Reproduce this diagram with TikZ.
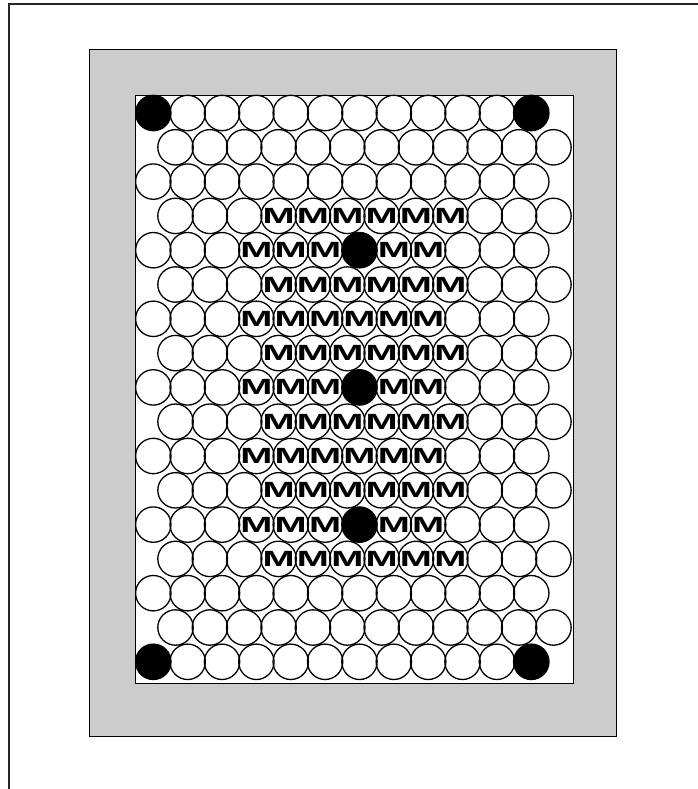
\documentclass[tikz,border=0pt]{standalone}
\usepackage{fontspec}
\newfontfamily\mfont{Liberation Sans}
\definecolor{traygray}{HTML}{CCCCCC}
\newcommand{\mlabel}{\scalebox{1.75}[1]{\mfont\bfseries\fontsize{22}{22}\selectfont M}}
\begin{document}
\begin{tikzpicture}[x=1pt,y=-1pt,
  frameline/.style={line width=1.4pt,draw=black!85},
  traybox/.style={draw=black,line width=1.3pt,fill=traygray,rectangle,anchor=north west,inner sep=0pt},
  boardbox/.style={draw=black,line width=1pt,fill=white,rectangle,anchor=north west,inner sep=0pt},
  ball/.style={circle,draw=black,line width=1.3pt,minimum size=35.4pt,inner sep=0pt},
  blackball/.style={ball,fill=black}]
\useasboundingbox (0,0) rectangle (698,789);
\fill[white] (0,0) rectangle (698,789);
\coordinate (f1) at (698,4);
\coordinate (f2) at (9,4);
\coordinate (f3) at (9,789);
\draw[frameline] (f1) -- (f2) -- (f3);
\node[traybox,minimum width=527pt,minimum height=687pt] (tray) at (89,49) {};
\node[boardbox,minimum width=438pt,minimum height=587.5pt] (board) at (135,95) {};
\foreach \i in {1,...,17}{
  \foreach \k in {0,...,11}{
    \pgfmathsetmacro\cx{(isodd(\i)?153.3:175.5)+34.36*\k}
    \pgfmathsetmacro\cy{113+34.3*(\i-1)}
    \pgfmathtruncatemacro\isblack{(((\i==1)||(\i==17))&&((\k==0)||(\k==11)))||(((\i==5)||(\i==9)||(\i==13))&&(\k==6)) ? 1 : 0}
    \pgfmathtruncatemacro\ism{((\i>=4)&&(\i<=14)&&(\k>=3)&&(\k<=8)) ? 1 : 0}
    \ifnum\isblack=1
      \node[blackball] (c-\i-\k) at (\cx,\cy) {};
    \else\ifnum\ism=1
      \node[ball] (c-\i-\k) at (\cx,\cy) {\mlabel};
    \else
      \node[ball] (c-\i-\k) at (\cx,\cy) {};
    \fi\fi
  }
}
\end{tikzpicture}
\end{document}
